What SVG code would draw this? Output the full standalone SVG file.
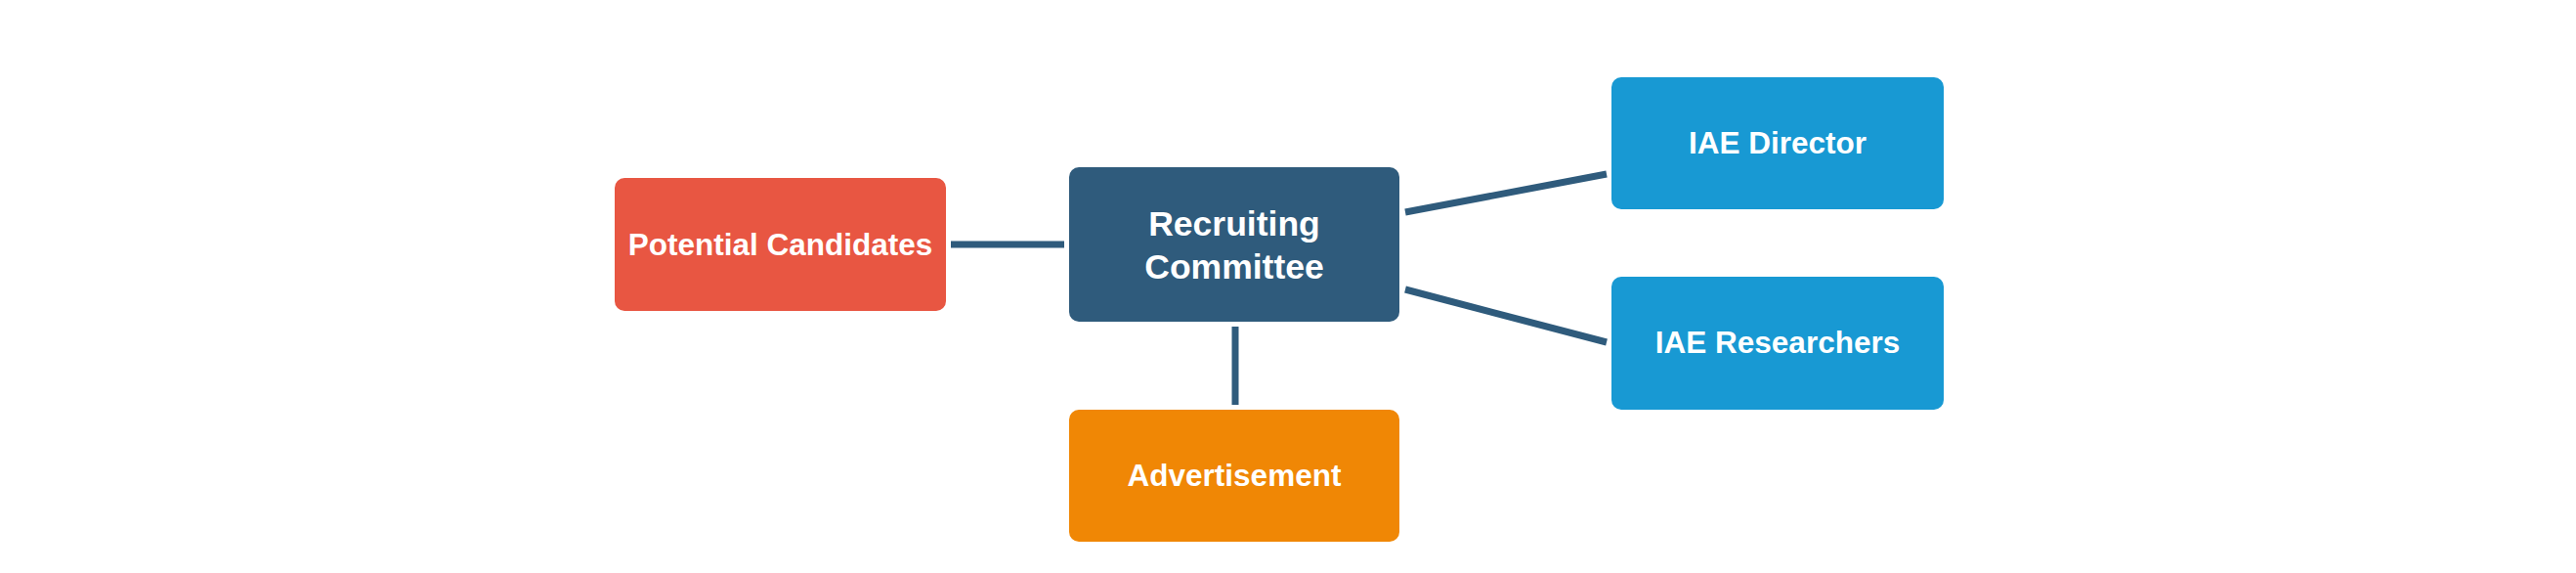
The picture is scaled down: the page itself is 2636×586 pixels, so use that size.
<svg xmlns="http://www.w3.org/2000/svg" width="2636" height="586" viewBox="0 0 2636 586">
<style>
.box{stroke:none}
.lbl{font-family:"Liberation Sans",Arial,sans-serif;font-weight:bold;fill:#ffffff;text-anchor:middle;font-size:31.5px}
.big{font-size:35.5px}
.conn{stroke:#2f5b7c;stroke-width:7;fill:none}
</style>
<rect width="2636" height="586" fill="#ffffff"/>
<g id="connectors">
<line class="conn" x1="973" y1="250" x2="1089" y2="250"/>
<line class="conn" x1="1264" y1="334" x2="1264" y2="414"/>
<line class="conn" x1="1438" y1="217" x2="1644" y2="178"/>
<line class="conn" x1="1438" y1="296" x2="1644" y2="350"/>
</g>
<g id="potential-candidates">
<rect class="box" x="629" y="182" width="339" height="136" rx="10" fill="#e85642"/>
<text class="lbl" x="798.5" y="261">Potential Candidates</text>
</g>
<g id="recruiting-committee">
<rect class="box" x="1094" y="171" width="338" height="158" rx="10" fill="#2f5b7c"/>
<text class="lbl big" x="1263" y="241">Recruiting</text>
<text class="lbl big" x="1263" y="285">Committee</text>
</g>
<g id="advertisement">
<rect class="box" x="1094" y="419" width="338" height="135" rx="10" fill="#f08705"/>
<text class="lbl" x="1263" y="497">Advertisement</text>
</g>
<g id="iae-director">
<rect class="box" x="1649" y="79" width="340" height="135" rx="10" fill="#1899d3"/>
<text class="lbl" x="1819" y="157">IAE Director</text>
</g>
<g id="iae-researchers">
<rect class="box" x="1649" y="283" width="340" height="136" rx="10" fill="#1899d3"/>
<text class="lbl" x="1819" y="361">IAE Researchers</text>
</g>
</svg>
